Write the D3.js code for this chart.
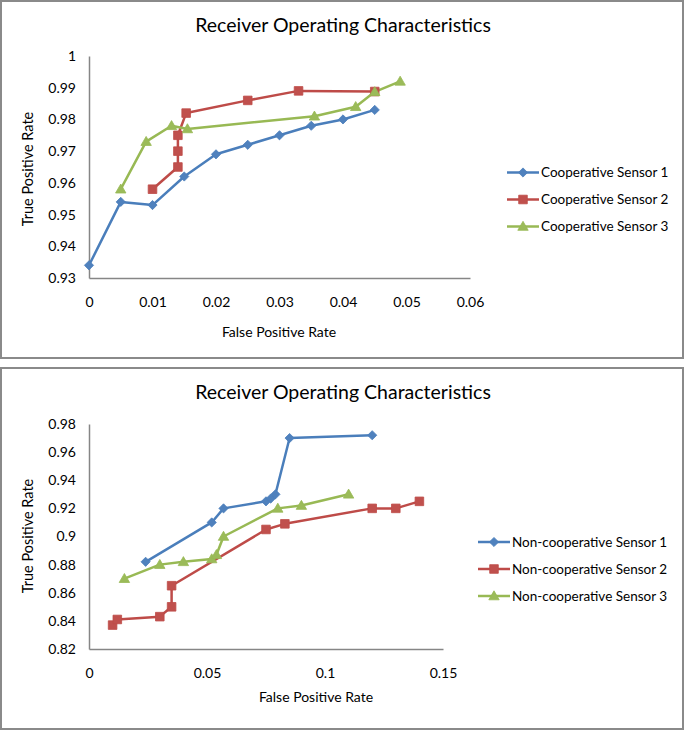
<!DOCTYPE html>
<html><head><meta charset="utf-8">
<script src="https://cdn.jsdelivr.net/npm/d3@7"></script>
<style>body{margin:0;background:#fff}svg{display:block}text{font-family:Lato,"Open Sans",sans-serif;fill:#000}</style>
</head><body><svg id="c" width="685" height="731"></svg>
<script>
// ---- Data: top chart (Cooperative) ----
const coopNames = ["Cooperative Sensor 1","Cooperative Sensor 2","Cooperative Sensor 3"];
const coopS1 = [[0,0.934],[0.005,0.954],[0.01,0.953],[0.015,0.962],[0.02,0.969],[0.025,0.972],[0.03,0.975],[0.035,0.978],[0.04,0.980],[0.045,0.983]];
const coopS2 = [[0.01,0.958],[0.014,0.965],[0.014,0.970],[0.014,0.975],[0.0153,0.982],[0.025,0.986],[0.033,0.989],[0.045,0.9888]];
const coopS3 = [[0.005,0.958],[0.009,0.973],[0.013,0.978],[0.0155,0.977],[0.0355,0.981],[0.042,0.984],[0.045,0.9887],[0.049,0.992]];
const coopXTicks = [0,0.01,0.02,0.03,0.04,0.05,0.06];
const coopYTicks = [0.93,0.94,0.95,0.96,0.97,0.98,0.99,1];
// ---- Data: bottom chart (Non-cooperative) ----
const nonNames = ["Non-cooperative Sensor 1","Non-cooperative Sensor 2","Non-cooperative Sensor 3"];
const nonS1 = [[0.024,0.882],[0.052,0.910],[0.057,0.920],[0.075,0.925],[0.077,0.927],[0.079,0.930],[0.085,0.970],[0.12,0.972]];
const nonS2 = [[0.01,0.837],[0.012,0.841],[0.030,0.843],[0.035,0.850],[0.035,0.865],[0.075,0.905],[0.083,0.909],[0.12,0.920],[0.13,0.920],[0.14,0.925]];
const nonS3 = [[0.015,0.870],[0.030,0.880],[0.040,0.882],[0.052,0.884],[0.054,0.887],[0.057,0.900],[0.080,0.920],[0.090,0.922],[0.110,0.930]];
const nonXTicks = [0,0.05,0.1,0.15];
const nonYTicks = [0.82,0.84,0.86,0.88,0.9,0.92,0.94,0.96,0.98];
const chartTitle = "Receiver Operating Characteristics";
const xTitle = "False Positive Rate", yTitle = "True Positive Rate";

const colors = ["#4A7EBB","#BE4B48","#98B954"];
const markerColors = ["#4F81BD","#C0504D","#9BBB59"];

const svg = d3.select("#c");

function markerPath(i){
  if(i===0) return "M0,-4.6L4.6,0L0,4.6L-4.6,0Z";
  if(i===1) return "M-4.3,-4.3H4.3V4.3H-4.3Z";
  return "M0,-5.2L5.2,3.8H-5.2Z";
}

function drawChart(cfg){
  const g = svg.append("g");
  g.append("rect").attr("x",cfg.frame[0]).attr("y",cfg.frame[1]).attr("width",cfg.frame[2]).attr("height",cfg.frame[3])
    .attr("fill","#fff").attr("stroke","#8a8a8a").attr("stroke-width",2);
  const x = d3.scaleLinear().domain(cfg.xDomain).range(cfg.xRange);
  const y = d3.scaleLinear().domain(cfg.yDomain).range(cfg.yRange);
  g.append("text").attr("x",cfg.titlePos[0]).attr("y",cfg.titlePos[1]).attr("text-anchor","middle")
    .style("font-size","19.5px").text(chartTitle);
  const ax = g.append("g").attr("transform",`translate(0,${cfg.yRange[0]})`)
    .call(d3.axisBottom(x).tickValues(cfg.xTicks).tickSize(0).tickPadding(cfg.xTickPad).tickFormat(d=>String(+d.toFixed(3))));
  const ay = g.append("g").attr("transform",`translate(${cfg.xRange[0]},0)`)
    .call(d3.axisLeft(y).tickValues(cfg.yTicks).tickSize(0).tickPadding(13).tickFormat(d=>String(+d.toFixed(3))));
  [ax,ay].forEach(a=>{
    a.select(".domain").attr("stroke","#868686").attr("stroke-width",1.5);
    a.selectAll("text").style("font-size","14px").style("font-family","Lato,'Open Sans',sans-serif").attr("fill","#000");
  });
  g.append("text").attr("x",cfg.xTitlePos[0]).attr("y",cfg.xTitlePos[1]).attr("text-anchor","middle").style("font-size","14px").text(xTitle);
  g.append("text").attr("transform",`translate(${cfg.yTitlePos[0]},${cfg.yTitlePos[1]}) rotate(-90)`).attr("text-anchor","middle").style("font-size","14.5px").text(yTitle);
  const line = d3.line().x(d=>x(d[0])).y(d=>y(d[1]));
  cfg.series.forEach((s,i)=>{
    g.append("path").datum(s).attr("d",line).attr("fill","none").attr("stroke",colors[i]).attr("stroke-width",2.5).attr("stroke-linejoin","round");
  });
  cfg.series.forEach((s,i)=>{
    g.selectAll(null).data(s).enter().append("path")
      .attr("transform",d=>`translate(${x(d[0])},${y(d[1])})`)
      .attr("d",markerPath(i)).attr("fill",markerColors[i]).attr("stroke",colors[i]).attr("stroke-width",0.8);
  });
  cfg.names.forEach((n,i)=>{
    const ly = cfg.legend.y0 + i*cfg.legend.dy;
    const lg = g.append("g");
    lg.append("line").attr("x1",cfg.legend.x0).attr("x2",cfg.legend.x0+32).attr("y1",ly).attr("y2",ly).attr("stroke",colors[i]).attr("stroke-width",2.5);
    lg.append("path").attr("transform",`translate(${cfg.legend.x0+16},${ly})`).attr("d",markerPath(i)).attr("fill",markerColors[i]).attr("stroke",colors[i]).attr("stroke-width",0.8);
    lg.append("text").attr("x",cfg.legend.x0+34).attr("y",ly).attr("dy","0.35em").style("font-size","13.5px").text(n);
  });
}

drawChart({
  frame:[1,1,682,357], xDomain:[0,0.06], xRange:[89,470], yDomain:[0.93,1], yRange:[278,56],
  xTicks:coopXTicks, yTicks:coopYTicks, xTickPad:19, titlePos:[343,32], xTitlePos:[279,337], yTitlePos:[33,169],
  series:[coopS1,coopS2,coopS3], names:coopNames, legend:{x0:507,y0:172.5,dy:27}
});
drawChart({
  frame:[1,368,682,361], xDomain:[0,0.15], xRange:[89,443], yDomain:[0.82,0.98], yRange:[649,424],
  xTicks:nonXTicks, yTicks:nonYTicks, xTickPad:19, titlePos:[343,399], xTitlePos:[316,702], yTitlePos:[33,536],
  series:[nonS1,nonS2,nonS3], names:nonNames, legend:{x0:478,y0:542,dy:27}
});
</script></body></html>
